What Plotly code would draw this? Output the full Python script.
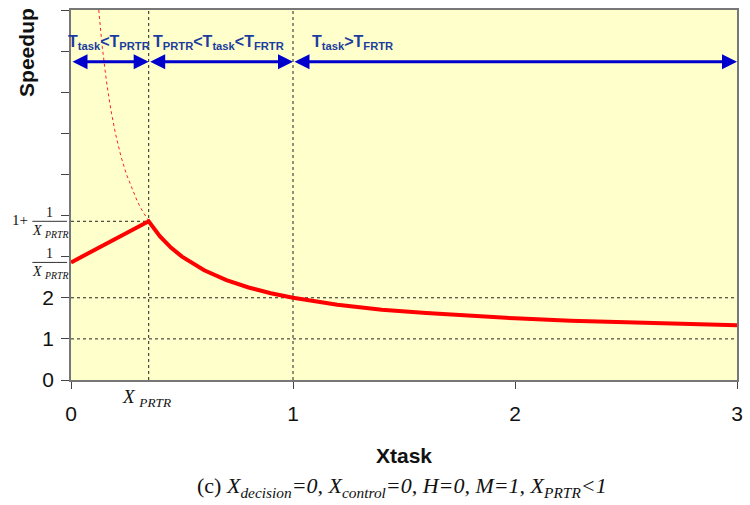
import plotly.graph_objects as go

# ---- data ----
X_PRTR = 0.35
Y_MAX = 9
x_ticks = [0, 1, 2, 3]
y_ticks = [0, 1, 2, 3, 4, 5, 6, 7, 8, 9]
y_ticktext = ["0", "1", "2", "", "", "", "", "", "", ""]

speed_x = [0.0, 0.05, 0.1, 0.15, 0.2, 0.25, 0.3, 0.35, 0.4, 0.45, 0.5, 0.6, 0.7, 0.8,
           0.9, 1.0, 1.2, 1.4, 1.6, 1.8, 2.0, 2.25, 2.5, 2.75, 3.0]
speed_y = [2.86, 3.0, 3.14, 3.29, 3.43, 3.57, 3.71, 3.86, 3.5, 3.22, 3.0, 2.67, 2.43, 2.25,
           2.11, 2.0, 1.83, 1.71, 1.63, 1.56, 1.5, 1.44, 1.4, 1.36, 1.33]

ext_x = [0.125, 0.14, 0.16, 0.18, 0.2, 0.225, 0.25, 0.275, 0.3, 0.325, 0.35, 0.38]
ext_y = [9.0, 8.14, 7.25, 6.56, 6.0, 5.44, 5.0, 4.64, 4.33, 4.08, 3.86, 3.63]

peak_y = 3.86
start_y = 2.86
arrow_y = 7.74
region_bounds = [0, X_PRTR, 1, 3]
region_labels = ["T<sub>task</sub>&lt;T<sub>PRTR</sub>",
                 "T<sub>PRTR</sub>&lt;T<sub>task</sub>&lt;T<sub>FRTR</sub>",
                 "T<sub>task</sub>&gt;T<sub>FRTR</sub>"]
label_x = [0.17, 0.665, 1.075]
label_anchor = ["center", "center", "left"]
label_y = 8.22

fig = go.Figure()
fig.add_trace(go.Scatter(x=ext_x, y=ext_y, mode="lines",
                         line=dict(color="#FF2020", width=1, dash="3px,3px"),
                         hoverinfo="skip", showlegend=False))
fig.add_trace(go.Scatter(x=speed_x, y=speed_y, mode="lines",
                         line=dict(color="#FF0000", width=4),
                         showlegend=False))

dash_style = dict(color="#222222", width=1, dash="3px,3px")
shapes = [
    dict(type="line", xref="x", yref="y", x0=0, x1=3, y0=1, y1=1, line=dash_style, layer="below"),
    dict(type="line", xref="x", yref="y", x0=0, x1=3, y0=2, y1=2, line=dash_style, layer="below"),
    dict(type="line", xref="x", yref="y", x0=0, x1=X_PRTR, y0=peak_y, y1=peak_y, line=dash_style, layer="below"),
    dict(type="line", xref="x", yref="y", x0=X_PRTR, x1=X_PRTR, y0=0, y1=Y_MAX, line=dash_style, layer="below"),
    dict(type="line", xref="x", yref="y", x0=1, x1=1, y0=0, y1=Y_MAX, line=dash_style, layer="below"),
]
# fraction bars for the custom y labels
for v in [peak_y, start_y]:
    shapes.append(dict(type="line", xref="paper", yref="paper", x0=-0.058, x1=-0.006,
                       y0=v / Y_MAX, y1=v / Y_MAX, line=dict(color="#333333", width=1)))

annotations = []
# blue double arrows
for a, b in zip(region_bounds[:-1], region_bounds[1:]):
    annotations.append(dict(x=b, y=arrow_y, ax=a, ay=arrow_y, xref="x", yref="y",
                            axref="x", ayref="y", text="", showarrow=True,
                            arrowhead=2, startarrowhead=2, arrowside="end+start",
                            arrowsize=1, arrowwidth=3, arrowcolor="#0000CC",
                            standoff=0, startstandoff=0))
for t, lx, anc in zip(region_labels, label_x, label_anchor):
    annotations.append(dict(x=lx, y=label_y, xref="x", yref="y", text="<b>" + t + "</b>",
                            showarrow=False, xanchor=anc, yanchor="middle",
                            font=dict(family="Arial, Liberation Sans", size=16, color="#1A3C9E")))

serif = "Times New Roman, Liberation Serif, serif"
# fraction labels on y axis
for v in [peak_y, start_y]:
    annotations.append(dict(x=-0.032, y=v, xref="paper", yref="y", yshift=9, text="1",
                            showarrow=False, xanchor="center", yanchor="middle",
                            font=dict(family=serif, size=14, color="#111")))
    annotations.append(dict(x=-0.032, y=v, xref="paper", yref="y", yshift=-10,
                            text="<i>X</i> <sub><i>PRTR</i></sub>",
                            showarrow=False, xanchor="center", yanchor="middle",
                            font=dict(family=serif, size=14, color="#111")))
annotations.append(dict(x=-0.076, y=peak_y, xref="paper", yref="y", yshift=1, text="1+",
                        showarrow=False, xanchor="center", yanchor="middle",
                        font=dict(family=serif, size=15, color="#111")))

# X_PRTR label under the axis
annotations.append(dict(x=X_PRTR, y=-0.048, xref="x", yref="paper", xshift=-2,
                        text="<i>X</i> <sub><i>PRTR</i></sub>", showarrow=False,
                        xanchor="center", yanchor="middle",
                        font=dict(family=serif, size=19, color="#111")))
# axis titles
annotations.append(dict(x=0.5, y=-0.203, xref="paper", yref="paper", text="<b>Xtask</b>",
                        showarrow=False, xanchor="center", yanchor="middle",
                        font=dict(family="Arial, Liberation Sans", size=21, color="#111")))
annotations.append(dict(x=-0.068, y=0.886, xref="paper", yref="paper", text="<b>Speedup</b>",
                        textangle=-90, showarrow=False, xanchor="center", yanchor="middle",
                        font=dict(family="Arial, Liberation Sans", size=21, color="#111")))
# caption
annotations.append(dict(x=0.497, y=-0.289, xref="paper", yref="paper",
                        text="(c) <i>X<sub>decision</sub>=0, X<sub>control</sub>=0, H=0, M=1, X<sub>PRTR</sub>&lt;1</i>",
                        showarrow=False, xanchor="center", yanchor="middle",
                        font=dict(family=serif, size=22, color="#111")))

fig.update_layout(
    width=750, height=505,
    margin=dict(l=71, r=7, t=10, b=125),
    paper_bgcolor="white", plot_bgcolor="#FFFFCC",
    shapes=shapes, annotations=annotations,
    xaxis=dict(range=[0, 3], tickvals=x_ticks, ticktext=[str(v) for v in x_ticks],
               showgrid=False, zeroline=False, ticks="outside", ticklen=7, tickcolor="#444",
               showline=True, linecolor="#777", linewidth=1.5, mirror=True,
               ticklabelstandoff=7,
               tickfont=dict(family="Arial, Liberation Sans", size=21, color="#111")),
    yaxis=dict(range=[0, Y_MAX], tickvals=y_ticks, ticktext=y_ticktext,
               showgrid=False, zeroline=False, ticks="outside", ticklen=8, tickcolor="#444",
               showline=True, linecolor="#777", linewidth=1.5, mirror=True,
               ticklabelstandoff=3,
               tickfont=dict(family="Arial, Liberation Sans", size=21, color="#111")),
)

fig.write_html("out.html")
